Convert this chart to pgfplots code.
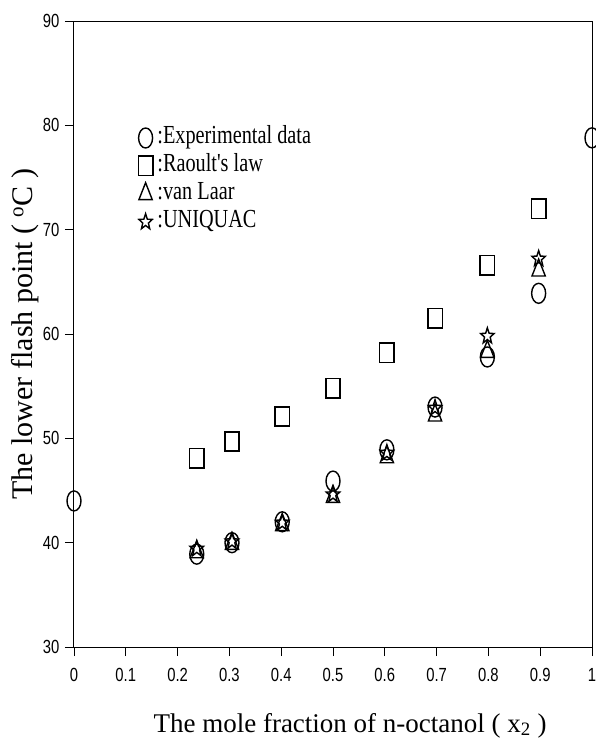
\documentclass[border=0pt]{standalone}
\usepackage{fontspec}
\setmainfont{Liberation Serif}
\newfontfamily\ticksf[FakeStretch=0.78]{Liberation Sans}
\newfontfamily\legfont[FakeStretch=0.78]{Liberation Serif}
\usepackage{pgfplots}
\pgfplotsset{compat=1.18}
\usetikzlibrary{plotmarks}

% five-pointed star outline
\pgfdeclareplotmark{ostar}{%
  \pgfpathmoveto{\pgfpointpolar{90}{\pgfplotmarksize}}%
  \pgfpathlineto{\pgfpointpolar{126}{0.42\pgfplotmarksize}}%
  \pgfpathlineto{\pgfpointpolar{162}{\pgfplotmarksize}}%
  \pgfpathlineto{\pgfpointpolar{198}{0.42\pgfplotmarksize}}%
  \pgfpathlineto{\pgfpointpolar{234}{\pgfplotmarksize}}%
  \pgfpathlineto{\pgfpointpolar{270}{0.42\pgfplotmarksize}}%
  \pgfpathlineto{\pgfpointpolar{306}{\pgfplotmarksize}}%
  \pgfpathlineto{\pgfpointpolar{342}{0.42\pgfplotmarksize}}%
  \pgfpathlineto{\pgfpointpolar{18}{\pgfplotmarksize}}%
  \pgfpathlineto{\pgfpointpolar{54}{0.42\pgfplotmarksize}}%
  \pgfpathclose
  \pgfusepathqstroke}

\begin{document}
\begin{tikzpicture}
\begin{axis}[
  scale only axis, width=518pt, height=626pt,
  xmin=0, xmax=1, ymin=30, ymax=90,
  xtick={0,0.1,0.2,0.3,0.4,0.5,0.6,0.7,0.8,0.9,1},
  ytick={30,40,50,60,70,80,90},
  tick align=outside, tick pos=left,
  major tick length=9pt,
  tick style={line width=0.8pt, black},
  axis line style={line width=1pt},
  /pgf/number format/assume math mode=true,
  xticklabel style={font=\fontsize{19}{19}\selectfont\ticksf, yshift=-9pt},
  yticklabel style={font=\fontsize{19}{19}\selectfont\ticksf, xshift=-2pt},
  xlabel={The mole fraction of n-octanol ( x\textsubscript{2} )},
  xlabel style={font=\fontsize{27}{27}\selectfont, at={(axis description cs:0.533,-0.1358)}, anchor=base},
  ylabel={The lower flash point ( \textsuperscript{o}C )},
  ylabel style={font=\fontsize{30}{30}\selectfont, at={(axis description cs:-0.0946,0.5)}, anchor=center},
  clip=false,
  legend style={draw=none, fill=none, at={(axis description cs:0.118,0.835)}, anchor=north west,
    font=\fontsize{26}{26}\selectfont\legfont, row sep=5pt,
    nodes={inner sep=0.5pt, text height=17pt, text depth=5pt}},
  legend cell align=left,
  legend image code/.code={\draw[#1] plot coordinates {(0pt,0pt)};},
]
\addplot[only marks, mark=o, mark size=10pt, mark options={xscale=0.7, line width=1.4pt}] coordinates {
 (0,44.0) (0.237,38.9) (0.305,40.0) (0.402,42.0) (0.5,45.9) (0.604,48.9)
 (0.697,53.0) (0.798,57.8) (0.897,63.9) (1,78.8)};
\addlegendentry{\hspace{4pt}:Experimental data}
\addplot[only marks, mark=square, mark size=9.7pt, mark options={xscale=0.75, line width=1.6pt}] coordinates {
 (0.237,48.1) (0.305,49.7) (0.402,52.1) (0.5,54.8) (0.604,58.2)
 (0.697,61.5) (0.798,66.6) (0.897,72.0)};
\addlegendentry{\hspace{4pt}:Raoult's law}
\addplot[only marks, mark=triangle, mark size=11.3pt, mark options={xscale=0.68, line width=1.4pt}] coordinates {
 (0.237,39.1) (0.305,39.9) (0.402,41.7) (0.5,44.4) (0.604,48.2)
 (0.697,52.2) (0.798,58.3) (0.897,66.1)};
\addlegendentry{\hspace{4pt}:van Laar}
\addplot[only marks, mark=ostar, mark size=8.3pt, mark options={xscale=0.85, line width=1.4pt}] coordinates {
 (0.237,39.4) (0.305,40.1) (0.402,41.9) (0.5,44.6) (0.604,48.6)
 (0.697,52.9) (0.798,59.8) (0.897,67.2)};
\addlegendentry{\hspace{4pt}:UNIQUAC}
\end{axis}
\pgfresetboundingbox
\path (-74pt,-93pt) rectangle (522pt,647pt);
\end{tikzpicture}
\end{document}
